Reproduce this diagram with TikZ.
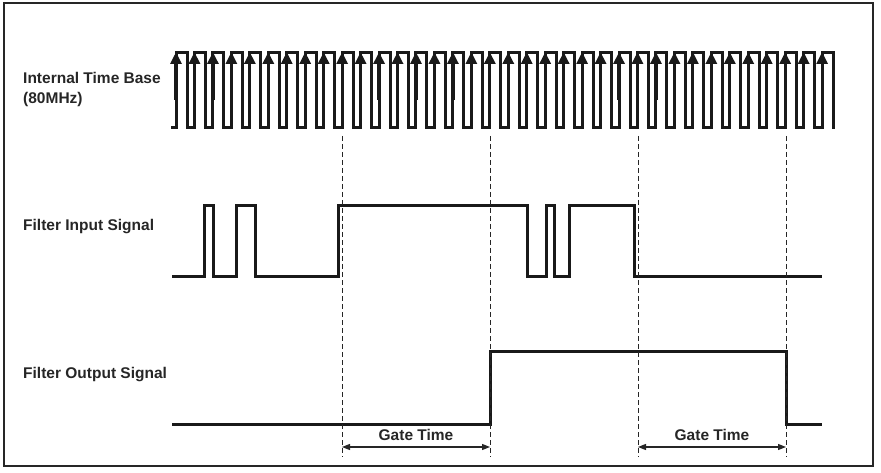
\documentclass[tikz,border=0pt]{standalone}
\usepackage{fontspec}
\setmainfont{Liberation Sans}
\usetikzlibrary{arrows.meta}

\begin{document}
\begin{tikzpicture}[
        x=1pt, y=-1pt,
        every node/.style={font=\fontsize{15.5}{20}\selectfont\bfseries, text=black!85},
        label/.style={anchor=west, align=left, inner sep=0pt},
        wave/.style={draw=black!90, line width=3pt, line join=miter},
        clockarrow/.style={draw=black!90, line width=3.2pt, -{Triangle[length=12pt,width=11pt]}},
        gate/.style={draw=black!85, line width=1pt, dash pattern=on 5pt off 3pt},
        span/.style={draw=black!85, line width=1.3pt, {Triangle[length=8pt,width=6pt]}-{Triangle[length=8pt,width=6pt]}}
        ]
        \useasboundingbox (0,0) rectangle (881,473);
        \draw[line width=1.4pt, black!85] (4,3) rectangle (873,466);

        % Labels
        \node[label] (clk) at (23,89) {Internal Time Base\\(80MHz)};
        \node[label] (in) at (23,227) {Filter Input Signal};
        \node[label] (out) at (23,375) {Filter Output Signal};

        % Internal time base
        \draw[wave] (171,128) foreach \k in {0,...,35} {
          -- ({176+18.46*\k},128) -- ({176+18.46*\k},53)
          -- ({187+18.46*\k},53) -- ({187+18.46*\k},128)} -- (835,128);
        \foreach \k in {0,...,35}
          \draw[clockarrow] ({176+18.46*\k},100) -- ({176+18.46*\k},52);

        % Filter input
        \draw[wave] (172,276) -- (204,276) -- (204,206) -- (213,206) -- (213,276)
          -- (236,276) -- (236,206) -- (255,206) -- (255,276) -- (338,276)
          -- (338,206) -- (527,206) -- (527,276) -- (546,276) -- (546,206)
          -- (554,206) -- (554,276) -- (569,276) -- (569,206) -- (634,206)
          -- (634,276) -- (822,276);

        % Filter output
        \draw[wave] (172,424) -- (490,424) -- (490,351) -- (786,351) -- (786,424) -- (822,424);

        % Gate lines
        \foreach \name/\x in {ga/342, gb/490, gc/638, gd/786} {
          \coordinate (\name top) at (\x,136);
          \coordinate (\name bot) at (\x,457);
          \coordinate (\name) at (\x,447);
          \draw[gate] (\name top) -- (\name bot);
        }

        % Gate time spans
        \draw[span] (ga) -- (gb) node[midway, above=2pt] (gt1) {Gate Time};
        \draw[span] (gc) -- (gd) node[midway, above=2pt] (gt2) {Gate Time};
    \end{tikzpicture}
\end{document}
